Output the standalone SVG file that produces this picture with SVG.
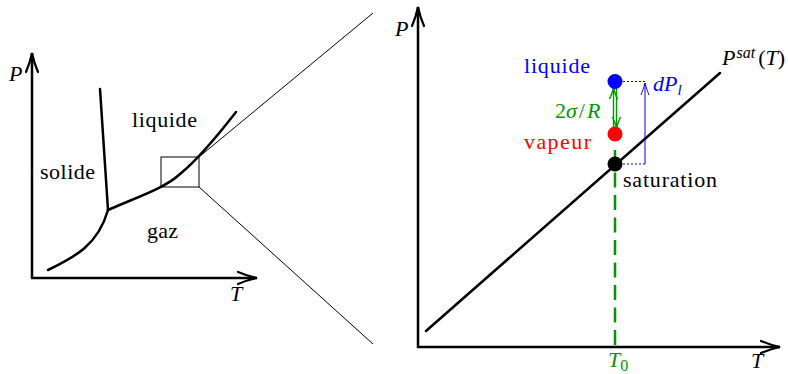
<svg xmlns="http://www.w3.org/2000/svg" width="788" height="374" viewBox="0 0 788 374">
<style>
text{font-family:"Liberation Serif","Times New Roman",serif;font-size:22px;fill:#000}
.it{font-style:italic}
.ax{stroke:#000;stroke-width:2.5;fill:none}
.thin{stroke:#000;stroke-width:1;fill:none}
.curve{stroke:#000;stroke-width:2.5;fill:none;stroke-linecap:round}
.blue{fill:#0000ff}
.red{fill:#ff0000}
.green{fill:#009900}
</style>
<defs>
<marker id="bigArrow" markerUnits="userSpaceOnUse" viewBox="-22 -8 24 16" markerWidth="24" markerHeight="16" refX="0" refY="0" orient="auto" overflow="visible">
<path d="M-19,-6 C-12,-3 -4,-0.8 0,0 C-4,0.8 -12,3 -19,6" fill="none" stroke="#000" stroke-width="2.2" stroke-linecap="round"/>
</marker>
<marker id="blueArrow" markerUnits="userSpaceOnUse" viewBox="-14 -6 16 12" markerWidth="16" markerHeight="12" refX="0" refY="0" orient="auto" overflow="visible">
<path d="M-12,-4 C-7,-2 -2,-0.5 0,0 C-2,0.5 -7,2 -12,4" fill="none" stroke="#0000ff" stroke-width="1"/>
</marker>
<marker id="greenArrow" markerUnits="userSpaceOnUse" viewBox="-14 -6 16 12" markerWidth="16" markerHeight="12" refX="0" refY="0" orient="auto" overflow="visible">
<path d="M-11,-4 C-7,-2 -2,-0.5 0,0 C-2,0.5 -7,2 -11,4" fill="none" stroke="#009900" stroke-width="1.4"/>
</marker>
</defs>

<g id="left-diagram">
<g id="left-axes">
<line class="ax" x1="32" y1="278" x2="32" y2="53" marker-end="url(#bigArrow)"/>
<line class="ax" x1="31" y1="278" x2="257" y2="278" marker-end="url(#bigArrow)"/>
<text class="it" x="9" y="81">P</text>
<text class="it" x="230" y="301">T</text>
</g>
<g id="phase-curves">
<path class="curve" d="M100,89 L108,210"/>
<path class="curve" d="M48,270 C75,257 98,245 108,210"/>
<path class="curve" d="M108,210 C140,196 165,188 180,174 C200,158 222,130 236,112"/>
</g>
<g id="phase-labels">
<text x="40" y="179" textLength="55">solide</text>
<text x="132" y="127" textLength="65">liquide</text>
<text x="147" y="238" textLength="31">gaz</text>
</g>
<g id="zoom-box">
<rect class="thin" x="161" y="157" width="38" height="30"/>
</g>
</g>

<g id="connectors">
<line class="thin" x1="199" y1="157" x2="373" y2="13"/>
<line class="thin" x1="199" y1="187" x2="373" y2="344"/>
</g>

<g id="right-diagram">
<g id="right-axes">
<line class="ax" x1="418" y1="348" x2="418" y2="7" marker-end="url(#bigArrow)"/>
<line class="ax" x1="417" y1="347" x2="780" y2="347" marker-end="url(#bigArrow)"/>
<text class="it" x="395" y="36">P</text>
<text class="it" x="751" y="368">T</text>
</g>
<g id="t0-line">
<line x1="615" y1="150" x2="615" y2="347" stroke="#009900" stroke-width="2.5" stroke-dasharray="15 7.5"/>
<text class="green" x="608" y="367"><tspan class="it">T</tspan><tspan font-size="16" dy="4">0</tspan></text>
</g>
<g id="saturation-line">
<line class="curve" x1="426" y1="331" x2="720" y2="73"/>
<text x="722" y="65"><tspan class="it">P</tspan><tspan class="it" font-size="16" dy="-7" dx="1">sat</tspan><tspan dy="7" dx="3">(</tspan><tspan class="it">T</tspan><tspan>)</tspan></text>
</g>
<g id="dP-arrow">
<line x1="623" y1="81.5" x2="645" y2="81.5" stroke="#0000ff" stroke-width="1" stroke-dasharray="2 2"/>
<line x1="623" y1="164" x2="645" y2="164" stroke="#0000ff" stroke-width="1" stroke-dasharray="2 2"/>
<line x1="645" y1="164" x2="645" y2="83" stroke="#0000ff" stroke-width="1" marker-end="url(#blueArrow)"/>
<text class="blue it" x="653" y="91">dP<tspan font-size="15" dy="4">l</tspan></text>
</g>
<g id="sigma-arrow">
<line x1="613.5" y1="127" x2="613.5" y2="88" stroke="#009900" stroke-width="1.4" marker-end="url(#greenArrow)"/>
<line x1="616.5" y1="88" x2="616.5" y2="128" stroke="#009900" stroke-width="1.4" marker-end="url(#greenArrow)"/>
<text class="green" x="555" y="118">2<tspan class="it">σ</tspan><tspan dx="2">/</tspan><tspan class="it" dx="2">R</tspan></text>
</g>
<g id="point-liquide">
<circle cx="615" cy="81.5" r="7.5" fill="#0000ff"/>
<text class="blue" x="524" y="73" textLength="66">liquide</text>
</g>
<g id="point-vapeur">
<circle cx="615" cy="134" r="7.5" fill="#ff0000"/>
<text class="red" x="524" y="149" textLength="67">vapeur</text>
</g>
<g id="point-saturation">
<circle cx="615" cy="164" r="7.5" fill="#000"/>
<text x="623" y="187" textLength="94">saturation</text>
</g>
</g>
</svg>
